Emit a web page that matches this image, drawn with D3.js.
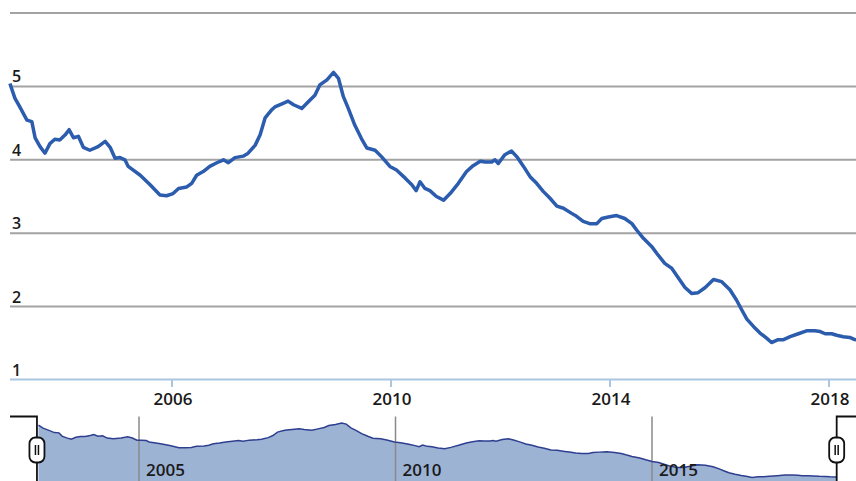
<!DOCTYPE html>
<html>
<head>
<meta charset="utf-8">
<script src="https://cdn.jsdelivr.net/npm/d3@7"></script>
<style>
  body { margin: 0; background: #fff; }
  svg { display: block; font-family: "Open Sans", sans-serif; }
</style>
</head>
<body>
<div id="chart"></div>
<script>
// decimal years and values
const years = [
  2003.04, 2003.13, 2003.22, 2003.35, 2003.44, 2003.50, 2003.59, 2003.68, 2003.77, 2003.86,
  2003.95, 2004.05, 2004.12, 2004.20, 2004.29, 2004.38, 2004.50, 2004.65, 2004.78, 2004.87,
  2004.96, 2005.05, 2005.14, 2005.20, 2005.42, 2005.60, 2005.78, 2005.90, 2006.02, 2006.12,
  2006.27, 2006.36, 2006.45, 2006.57, 2006.69, 2006.82, 2006.94, 2007.03, 2007.15, 2007.30,
  2007.39, 2007.52, 2007.61, 2007.70, 2007.82, 2007.88, 2008.03, 2008.12, 2008.22, 2008.37,
  2008.49, 2008.61, 2008.70, 2008.83, 2008.95, 2009.04, 2009.13, 2009.22, 2009.34, 2009.46,
  2009.56, 2009.71, 2009.83, 2009.98, 2010.10, 2010.26, 2010.38, 2010.46, 2010.53, 2010.62,
  2010.71, 2010.83, 2010.96, 2011.08, 2011.23, 2011.38, 2011.50, 2011.63, 2011.72, 2011.84,
  2011.90, 2011.96, 2012.08, 2012.20, 2012.30, 2012.42, 2012.54, 2012.66, 2012.78, 2012.90,
  2013.03, 2013.15, 2013.30, 2013.39, 2013.51, 2013.63, 2013.76, 2013.85, 2013.97, 2014.12,
  2014.27, 2014.40, 2014.49, 2014.61, 2014.76, 2014.88, 2015.00, 2015.13, 2015.25, 2015.37,
  2015.49, 2015.61, 2015.74, 2015.89, 2016.04, 2016.19, 2016.31, 2016.41, 2016.50, 2016.62,
  2016.74, 2016.86, 2016.95, 2017.07, 2017.17, 2017.29, 2017.44, 2017.59, 2017.74, 2017.84,
  2017.93, 2018.05, 2018.14, 2018.26, 2018.38, 2018.47, 2018.60
];
const values = [
  5.04, 4.84, 4.72, 4.54, 4.52, 4.30, 4.18, 4.09, 4.22, 4.28,
  4.27, 4.34, 4.41, 4.30, 4.32, 4.17, 4.13, 4.18, 4.25, 4.17,
  4.02, 4.03, 4.00, 3.91, 3.79, 3.66, 3.52, 3.51, 3.54, 3.61,
  3.63, 3.68, 3.79, 3.84, 3.91, 3.96, 4.00, 3.96, 4.03, 4.05,
  4.09, 4.20, 4.34, 4.57, 4.68, 4.72, 4.77, 4.80, 4.75, 4.70,
  4.79, 4.88, 5.02, 5.09, 5.19, 5.11, 4.86, 4.70, 4.47, 4.29,
  4.16, 4.13, 4.04, 3.91, 3.86, 3.75, 3.66, 3.58, 3.70, 3.61,
  3.58, 3.50, 3.45, 3.54, 3.68, 3.84, 3.92, 3.98, 3.97, 3.97,
  4.00, 3.95, 4.07, 4.12, 4.04, 3.91, 3.77, 3.68, 3.57, 3.48,
  3.37, 3.34, 3.27, 3.23, 3.16, 3.13, 3.13, 3.20, 3.22, 3.24,
  3.20, 3.13, 3.04, 2.93, 2.82, 2.70, 2.59, 2.52, 2.39, 2.26,
  2.18, 2.19, 2.26, 2.37, 2.34, 2.23, 2.09, 1.95, 1.83, 1.73,
  1.64, 1.57, 1.51, 1.55, 1.55, 1.59, 1.63, 1.67, 1.67, 1.66,
  1.63, 1.63, 1.61, 1.59, 1.58, 1.55, 1.54
];
const yTicks = [1, 2, 3, 4, 5, 6];
const yLabels = ["1", "2", "3", "4", "5"];
const xTicks = [2006, 2010, 2014, 2018];
const navTicks = [2005, 2010, 2015];

const data = years.map((y, i) => ({ year: y, value: values[i] }));

const width = 856, height = 481;
const svg = d3.select("#chart").append("svg")
  .attr("width", width).attr("height", height);

// main chart
const x = d3.scaleLinear().domain([2006, 2010]).range([172, 391]);
const y = d3.scaleLinear().domain([1, 6]).range([380, 13]);

svg.append("g").selectAll("line")
  .data(yTicks.filter(d => d > 1))
  .join("line")
  .attr("x1", 10).attr("x2", width)
  .attr("y1", d => y(d)).attr("y2", d => y(d))
  .attr("stroke", "#a3a3a3").attr("stroke-width", 2);

svg.append("line")
  .attr("x1", 10).attr("x2", width)
  .attr("y1", y(1) - 0.5).attr("y2", y(1) - 0.5)
  .attr("stroke", "#a9c6e2").attr("stroke-width", 2);

svg.append("g").selectAll("line")
  .data(xTicks)
  .join("line")
  .attr("x1", d => x(d)).attr("x2", d => x(d))
  .attr("y1", y(1)).attr("y2", y(1) + 7)
  .attr("stroke", "#a9c6e2").attr("stroke-width", 2);

svg.append("g").selectAll("text")
  .data(yLabels)
  .join("text")
  .attr("x", 12)
  .attr("y", d => y(+d) - 4)
  .attr("font-size", 16).attr("font-weight", 600).attr("fill", "#1a1a1a")
  .text(d => d);

svg.append("g").selectAll("text")
  .data(xTicks)
  .join("text")
  .attr("x", d => x(d) + 1)
  .attr("y", 405)
  .attr("text-anchor", "middle")
  .attr("font-size", 17).attr("font-weight", 600).attr("fill", "#1a1a1a")
  .text(d => d);

svg.append("defs").append("clipPath").attr("id", "plot")
  .append("rect").attr("x", 8).attr("y", 0).attr("width", width).attr("height", 385);

svg.append("path")
  .datum(data)
  .attr("clip-path", "url(#plot)")
  .attr("fill", "none")
  .attr("stroke", "#2b5cae")
  .attr("stroke-width", 3.5)
  .attr("stroke-linejoin", "round")
  .attr("d", d3.line().x(d => x(d.year)).y(d => y(d.value)));

// navigator
const nx = d3.scaleLinear().domain([2005, 2015]).range([139, 652]);
const ny = d3.scaleLinear().domain([1.5, 5.2]).range([477.6, 422.8]);
const navTop = 416.5;

svg.append("path")
  .datum(data)
  .attr("fill", "#9db3d4")
  .attr("d", d3.area().x(d => nx(d.year)).y0(height + 5).y1(d => ny(d.value)));

svg.append("g").selectAll("line")
  .data(navTicks)
  .join("line")
  .attr("x1", d => nx(d)).attr("x2", d => nx(d))
  .attr("y1", navTop).attr("y2", height)
  .attr("stroke", "#8a8a8a").attr("stroke-width", 1.5);

svg.append("path")
  .datum(data)
  .attr("fill", "none")
  .attr("stroke", "#2e3f8f")
  .attr("stroke-width", 1.5)
  .attr("d", d3.line().x(d => nx(d.year)).y(d => ny(d.value)));

svg.append("g").selectAll("text")
  .data(navTicks)
  .join("text")
  .attr("x", d => nx(d) + 7)
  .attr("y", 476)
  .attr("font-size", 17).attr("font-weight", 600).attr("fill", "#1a1a1a")
  .text(d => d);

const left = nx(years[0]) - 1.5, right = nx(years[years.length - 1]);
svg.append("path")
  .attr("fill", "none").attr("stroke", "#111").attr("stroke-width", 1.8)
  .attr("d", `M10,${navTop}H${left}V${height}M${width},${navTop}H${right}V${height}`);

const handles = svg.append("g").selectAll("g")
  .data([left, right])
  .join("g")
  .attr("transform", d => `translate(${d},450)`);
handles.append("rect")
  .attr("x", -7.5).attr("y", -12.5).attr("width", 15).attr("height", 25).attr("rx", 6)
  .attr("fill", "#fff").attr("stroke", "#111").attr("stroke-width", 1.8);
handles.append("path")
  .attr("stroke", "#111").attr("stroke-width", 1.5)
  .attr("d", "M-1.5,-5V5M1.5,-5V5");
</script>
</body>
</html>
